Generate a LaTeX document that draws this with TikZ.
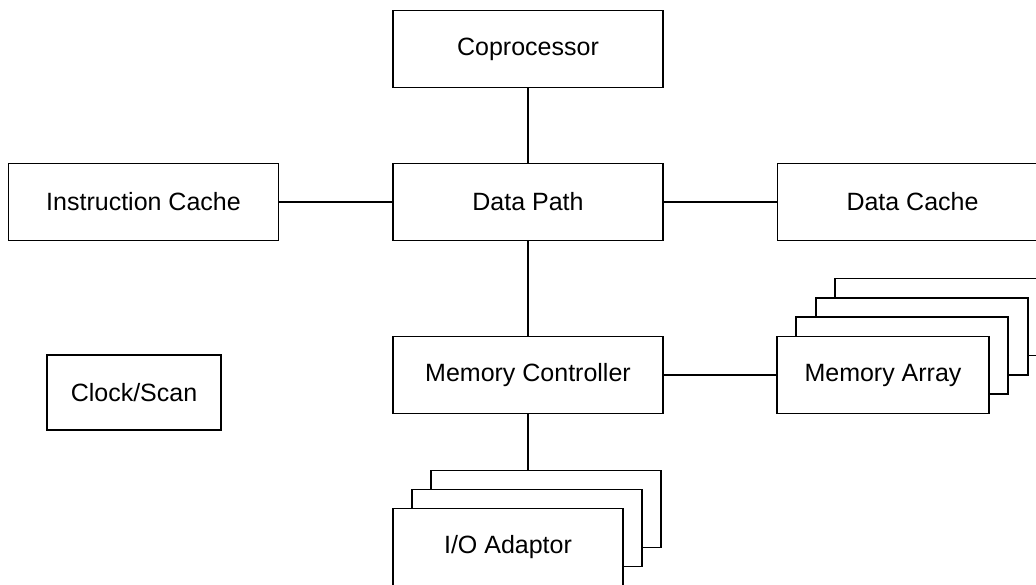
\documentclass[tikz,border=0pt]{standalone}
\usepackage{fontspec}
\setmainfont{Liberation Sans}
\usetikzlibrary{positioning}

\begin{document}
\begin{tikzpicture}[x=1pt,y=-1pt]
  \useasboundingbox (0,0) rectangle (1036,584);

  %stile blocchi
  \tikzset{blk/.style={draw=black, fill=white, line width=1.8pt, inner sep=0pt,
      minimum width=270pt, minimum height=77pt,
      font=\fontsize{25}{30}\selectfont}}
  \tikzset{link/.style={-, black, line width=1.8pt}}

  % def blocchi
  \node[blk] (copro) at (528,49) {Coprocessor};
  \node[blk] (icache) at (143.5,202) {Instruction Cache};
  \node[blk] (dpath) at (528,202) {Data Path};
  \node[blk] (dcache) at (912.5,202) {Data Cache};
  \node[blk, minimum width=174pt, minimum height=75pt] (clock) at (134,392.5) {Clock/Scan};
  \node[blk] (mctrl) at (528,375) {Memory Controller};

  % memory array (pila)
  \node[blk, minimum width=212pt] (marray4) at (941,317) {};
  \node[blk, minimum width=212pt] (marray3) at (921.7,336.3) {};
  \node[blk, minimum width=212pt] (marray2) at (902.3,355.7) {};
  \node[blk, minimum width=212pt] (marray) at (883,375) {Memory Array};

  % i/o adaptor (pila)
  \node[blk, minimum width=230pt] (io3) at (546,509) {};
  \node[blk, minimum width=230pt] (io2) at (527,528) {};
  \node[blk, minimum width=230pt] (io) at (508,547) {I/O Adaptor};

  %linee
  \draw[link] (copro) -- (dpath);
  \draw[link] (icache) -- (dpath);
  \draw[link] (dpath) -- (dcache);
  \draw[link] (dpath) -- (mctrl);
  \draw[link] (mctrl) -- (marray);
  \draw[link] (mctrl.south) -- (mctrl.south |- io3.north);

\end{tikzpicture}
\end{document}
